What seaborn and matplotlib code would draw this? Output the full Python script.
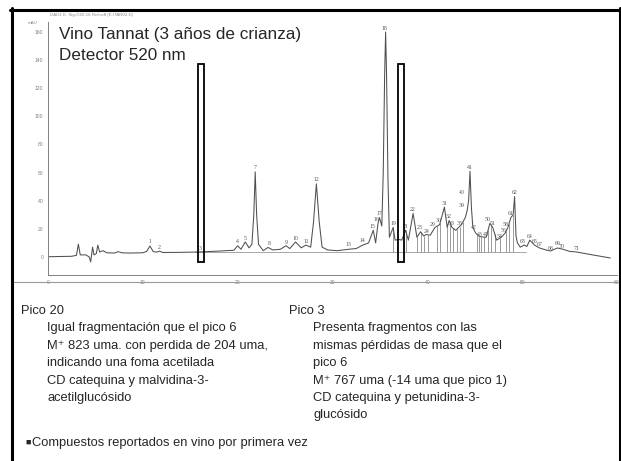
import numpy as np
import matplotlib
matplotlib.use("Agg")
import matplotlib.pyplot as plt
import seaborn as sns
from matplotlib.patches import Rectangle
from matplotlib.lines import Line2D

# ---------------- data ----------------
time_min = [0, 2.5, 3.0, 3.2, 3.4, 4.0, 4.35, 4.5, 4.7, 4.85, 5.1, 5.25, 5.45, 5.8, 6.2,
            7.0, 7.4, 7.8, 8.5, 10.0, 10.4, 10.75, 11.1, 11.5, 11.75, 12.1, 14.0, 16.0,
            18.0, 19.6, 20.0, 20.35, 20.8, 21.2, 21.5, 21.7, 21.85, 22.0, 22.2, 22.7,
            23.2, 23.7, 24.5, 25.1, 25.5, 26.1, 26.7, 27.2, 27.7, 28.0, 28.3, 28.6, 28.9,
            29.5, 30.5, 31.7, 32.5, 33.2, 33.8, 34.3, 34.55, 34.8, 34.95, 35.2, 35.35,
            35.5, 35.6, 35.7, 35.85, 36.0, 36.4, 36.6, 37.0, 37.3, 37.7, 38.0, 38.5, 38.9,
            39.3, 39.6, 39.9, 40.3, 40.8, 41.3, 41.8, 42.1, 42.3, 42.6, 43.0, 43.6, 44.0,
            44.2, 44.35, 44.5, 44.65, 44.8, 45.1, 45.5, 46.2, 46.6, 46.9, 47.3, 47.8, 48.2,
            48.5, 48.8, 49.05, 49.2, 49.35, 49.5, 49.8, 50.2, 50.5, 50.8, 51.3, 51.8,
            52.5, 53.0, 53.7, 54.2, 55.0, 55.7, 57.5, 59.3]
signal_mau = [0.2, 0.5, 1.2, 9.2, 1.5, 1.5, 0.0, -3.5, 7.0, 1.5, 2.5, 8.5, 3.5, 4.5, 3.0,
              2.8, 3.8, 3.0, 2.8, 3.0, 4.0, 7.8, 3.8, 3.5, 4.2, 3.2, 3.3, 3.6,
              4.2, 4.8, 8.0, 5.5, 10.7, 6.5, 9.0, 30.0, 60.5, 30.0, 9.0, 4.5,
              6.8, 5.0, 5.5, 8.0, 6.0, 10.7, 6.5, 8.5, 7.0, 25.0, 52.0, 25.0, 7.0,
              5.0, 4.5, 5.5, 6.0, 8.5, 10.0, 19.0, 10.0, 24.0, 28.0, 22.0, 60.0,
              130.0, 160.0, 130.0, 55.0, 14.0, 21.0, 12.0, 12.5, 12.0, 19.0, 12.0, 31.0, 14.0,
              18.0, 15.0, 16.0, 15.5, 21.0, 23.0, 35.5, 21.0, 26.0, 21.0, 19.0, 23.0, 28.0,
              33.0, 40.0, 61.0, 35.0, 21.0, 17.0, 14.5, 14.0, 24.0, 21.0, 12.0, 14.0, 17.0,
              21.0, 28.0, 30.0, 43.0, 15.0, 10.0, 7.0, 8.5, 7.5, 12.0, 8.5, 6.5,
              5.0, 4.3, 6.4, 5.7, 4.0, 3.6, 1.4, -0.7]

peak_labels = ["1", "2", "3", "4", "5", "7", "8", "9", "10", "11", "12", "13", "14", "15",
               "16", "17", "18", "19", "21", "22", "23", "24", "29", "30", "31", "32", "33",
               "35", "39", "40", "41", "42", "43", "45", "50", "51", "54", "56", "58", "61",
               "62", "63", "64", "65", "67", "68", "69", "70", "71"]
peak_label_t = [10.75, 11.75, 16.1, 20.0, 20.8, 21.85, 23.3, 25.1, 26.1, 27.2, 28.3, 31.7,
                33.2, 34.2, 34.6, 34.95, 35.45, 36.4, 37.7, 38.5, 39.2, 39.9, 40.6, 41.2,
                41.8, 42.3, 42.6, 43.4, 43.6, 43.6, 44.5, 44.95, 45.5, 46.15, 46.4, 46.9,
                47.6, 48.0, 48.3, 48.8, 49.2, 50.1, 50.8, 51.3, 51.9, 53.0, 53.7, 54.2, 55.7]
peak_label_y = [9, 5, 4.5, 9, 11.5, 62, 7.5, 8.5, 11.5, 9, 53.5, 7, 10, 20, 25, 29.5, 161,
                22, 20, 32, 19, 16.5, 21.5, 24, 36.5, 27, 22, 22, 35, 44, 62, 19.5, 14, 14,
                25, 22, 13, 17, 21, 29.5, 44, 9, 13, 9.5, 7, 4.5, 7.5, 5.5, 4]

drop_times = [36.4, 36.8, 37.7, 38.9, 39.3, 39.6, 40.1, 41.0, 41.35, 42.1, 42.4, 42.7,
              43.1, 43.4, 43.75, 45.2, 45.5, 45.7, 46.0, 46.4, 46.7, 47.1, 47.7, 48.3,
              48.6, 49.0]
highlight_start = [15.83, 36.9]   # boxes around peaks 3 and 20
highlight_width = 0.63

x_ticks = [0, 10, 20, 30, 40, 50, 60]
y_ticks = [0, 20, 40, 60, 80, 100, 120, 140, 160]

title_lines = ["Vino Tannat (3 años de crianza)", "Detector 520 nm"]
left_head = "Pico 20"
left_lines = ["Igual fragmentación que el pico 6",
              "M\u207a 823 uma. con perdida de 204 uma,",
              "indicando una foma acetilada",
              "CD catequina y malvidina-3-",
              "acetilglucósido"]
right_head = "Pico 3"
right_lines = ["Presenta fragmentos con las",
               "mismas pérdidas de masa que el",
               "pico 6",
               "M\u207a 767 uma (-14 uma que pico 1)",
               "CD catequina y petunidina-3-",
               "glucósido"]
footer_bullet = "\u25a0"
footer = "Compuestos reportados en vino por primera vez"

# ---------------- figure ----------------
sns.set_style("white")
plt.rcParams["font.family"] = ["Liberation Sans", "DejaVu Sans"]

W, H = 621, 461
fig = plt.figure(figsize=(W / 100, H / 100), dpi=100)
fig.patch.set_facecolor("white")


def fx(x):
    return x / W


def fy(y):
    return 1 - y / H


ax = fig.add_axes([fx(48), fy(275), (617 - 48) / W, (275 - 22) / H])
ax.set_facecolor("none")
sns.lineplot(x=time_min, y=signal_mau, ax=ax, color="#505050", lw=0.75,
             estimator=None, sort=False)
ax.set_xlim(0, 59.27)
ax.set_ylim(-12.8, 167.1)

# integration baseline and drop lines
ax.plot([15.5, 50.4], [3.2, 3.2], color="#999999", lw=0.6, zorder=1)
tops = np.interp(drop_times, time_min, signal_mau)
ax.vlines(drop_times, 3.2, tops, color="#8a8a8a", lw=0.6, zorder=1)

for t0 in highlight_start:
    ax.add_patch(Rectangle((t0, -3.9), highlight_width, 141.2, fill=False,
                           ec="black", lw=1.3, zorder=6))

for lab, t, y in zip(peak_labels, peak_label_t, peak_label_y):
    ax.text(t, y, lab, fontsize=4.2, family="Liberation Serif", color="#555555",
            ha="center", va="bottom")

for s in ["top", "right"]:
    ax.spines[s].set_visible(False)
for s in ["left", "bottom"]:
    ax.spines[s].set_color("#808080")
    ax.spines[s].set_linewidth(0.7)
ax.set_xticks(x_ticks)
ax.set_xticks(np.arange(0, 60, 2), minor=True)
ax.set_yticks(y_ticks)
ax.set_yticks(np.arange(-10, 166, 5), minor=True)
ax.tick_params(axis="both", which="major", direction="inout", length=3, width=0.5,
               color="#808080", labelsize=3.6, labelcolor="#808080", pad=2)
ax.tick_params(axis="both", which="minor", direction="inout", length=1.6, width=0.4,
               color="#808080")
ax.set_xlabel("")
ax.set_ylabel("")

# small instrument header
fig.text(fx(50), fy(15), "DAD1 E, Sig=520,16 Ref=off (E:\\TAN02.D)", fontsize=3.2,
         color="#8a8a8a", va="center")
fig.text(fx(33), fy(23), "mAU", fontsize=3.2, color="#8a8a8a", va="center", ha="center")

# titles
fig.text(fx(59), fy(39.5), title_lines[0], fontsize=12.3, va="baseline")
fig.text(fx(59), fy(59.5), title_lines[1], fontsize=12.3, va="baseline")

# lower text block
base0 = 314
step = 17.4
fs = 9.3
fig.text(fx(21), fy(base0), left_head, fontsize=fs, va="baseline")
for i, line in enumerate(left_lines):
    fig.text(fx(47), fy(base0 + step * (i + 1)), line, fontsize=fs, va="baseline")
fig.text(fx(289), fy(base0), right_head, fontsize=fs, va="baseline")
for i, line in enumerate(right_lines):
    fig.text(fx(313), fy(base0 + step * (i + 1)), line, fontsize=fs, va="baseline")
fig.text(fx(25), fy(444.5), footer_bullet, fontsize=6.5, va="baseline")
fig.text(fx(32.5), fy(445.5), footer, fontsize=fs, va="baseline")

# frame lines
fig.add_artist(Line2D([fx(13), fx(618)], [fy(282), fy(282)], color="#9a9a9a", lw=0.8))
bw = 2.2
fig.add_artist(Line2D([fx(10), fx(621)], [fy(9.7), fy(9.7)], color="black", lw=bw))
fig.add_artist(Line2D([fx(11.7), fx(11.7)], [fy(8.5), fy(461)], color="black", lw=bw))
fig.add_artist(Line2D([fx(619.5), fx(619.5)], [fy(8.5), fy(461)], color="black", lw=bw))

fig.savefig("out.png", dpi=100)
